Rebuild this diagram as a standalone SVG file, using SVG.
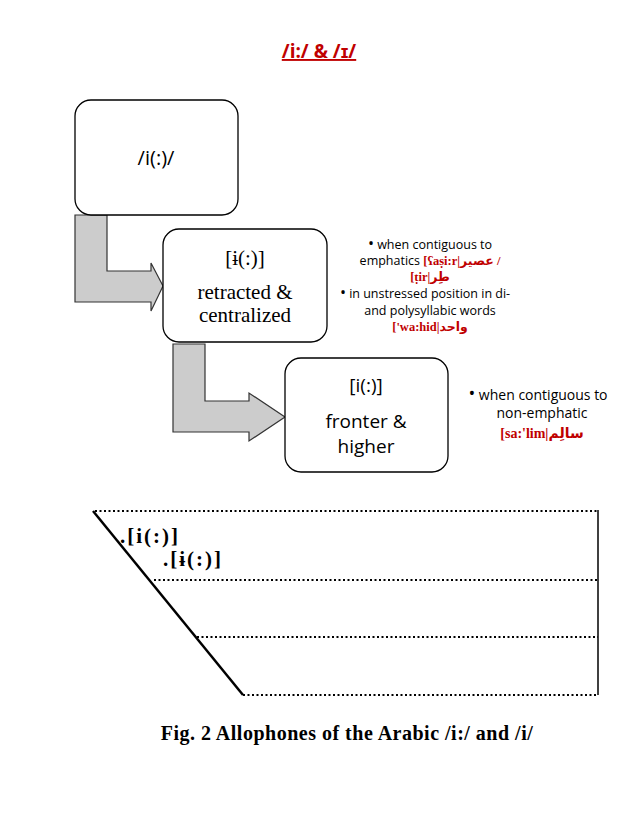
<svg xmlns="http://www.w3.org/2000/svg" width="638" height="826" viewBox="0 0 638 826">
<style>
.box{fill:#fff;stroke:#000;stroke-width:1.3}
.arr{fill:#cccccc;stroke:#333;stroke-width:1.2}
.serif{font-family:"Liberation Serif",serif;text-anchor:middle;fill:#000}
.sans{font-family:"Open Sans","Liberation Sans",sans-serif;text-anchor:middle;fill:#000}
.red{fill:#c00000;font-weight:bold;font-family:"Liberation Serif","DejaVu Sans",serif}
.dot{stroke:#000;stroke-width:2;stroke-dasharray:2 2.5;fill:none}
</style>
<rect width="638" height="826" fill="#fff"/>
<text x="319" y="58" font-family="Open Sans,Liberation Sans,sans-serif" font-size="19" font-weight="bold" fill="#c00000" text-anchor="middle" text-decoration="underline">/i:/ &amp; /ɪ/</text>
<g id="connectors">
<path class="arr" d="M75,215 H107 V271 H151 V263 L163,286 L151,311 V302 H75 Z"/>
<path class="arr" d="M173,344 H205 V401 H249 V393 L285,417 L249,441 V432 H173 Z"/>
</g>
<g id="n1"><rect class="box" x="75" y="100" width="163" height="115" rx="16"/>
<text class="sans" x="156" y="165" font-size="20">/i(:)/</text></g>
<g id="n2"><rect class="box" x="163" y="229" width="164" height="113" rx="16"/>
<text class="serif" x="245" y="265" font-size="21">[ɨ(:)]</text>
<text class="serif" x="245" y="299" font-size="21">retracted &amp;</text>
<text class="serif" x="245" y="322" font-size="21">centralized</text></g>
<g id="n3"><rect class="box" x="285" y="358" width="163" height="114" rx="16"/>
<text class="sans" x="366" y="392" font-size="19">[i(:)]</text>
<text class="sans" x="366" y="428" font-size="19">fronter &amp;</text>
<text class="sans" x="366" y="453" font-size="19">higher</text></g>
<g id="notes1" font-size="12.5">
<text class="sans" x="430" y="249"><tspan font-size="16">•</tspan> when contiguous to</text>
<text class="sans" x="430" y="265">emphatics <tspan class="red">[ʕaṣi:r|عصير /</tspan></text>
<text class="sans" x="430" y="281"><tspan class="red">[ṭir|طِر</tspan></text>
<text class="sans" x="425" y="298"><tspan font-size="16">•</tspan> in unstressed position in di-</text>
<text class="sans" x="430" y="315">and polysyllabic words</text>
<text class="sans" x="430" y="331"><tspan class="red">['wa:hid|واحد</tspan></text>
</g>
<g id="notes2" font-size="14">
<text class="sans" x="538" y="400"><tspan font-size="18">•</tspan>  when contiguous to</text>
<text class="sans" x="542" y="418">non-emphatic</text>
<text class="sans" x="542" y="438"><tspan class="red">[sa:'lim|سالِم</tspan></text>
</g>
<g id="chart">
<line class="dot" x1="95" y1="511" x2="598" y2="511"/>
<line class="dot" x1="154" y1="580" x2="598" y2="580"/>
<line class="dot" x1="197" y1="637" x2="598" y2="637"/>
<line class="dot" x1="243" y1="695" x2="598" y2="695"/>
<line x1="598" y1="510" x2="598" y2="695" stroke="#000" stroke-width="1.5"/>
<line x1="93" y1="511" x2="243" y2="695" stroke="#000" stroke-width="2.5"/>
<text x="120" y="543" font-family="Liberation Serif,serif" font-size="21" font-weight="bold" letter-spacing="2">.[i(:)]</text>
<text x="163" y="566" font-family="Liberation Serif,serif" font-size="21" font-weight="bold" letter-spacing="2">.[ɨ(:)]</text>
<text x="347" y="740" font-family="Liberation Serif,serif" font-size="20" font-weight="bold" text-anchor="middle" letter-spacing="0.5">Fig. 2 Allophones of the Arabic /i:/ and /i/</text>
</g>
</svg>
